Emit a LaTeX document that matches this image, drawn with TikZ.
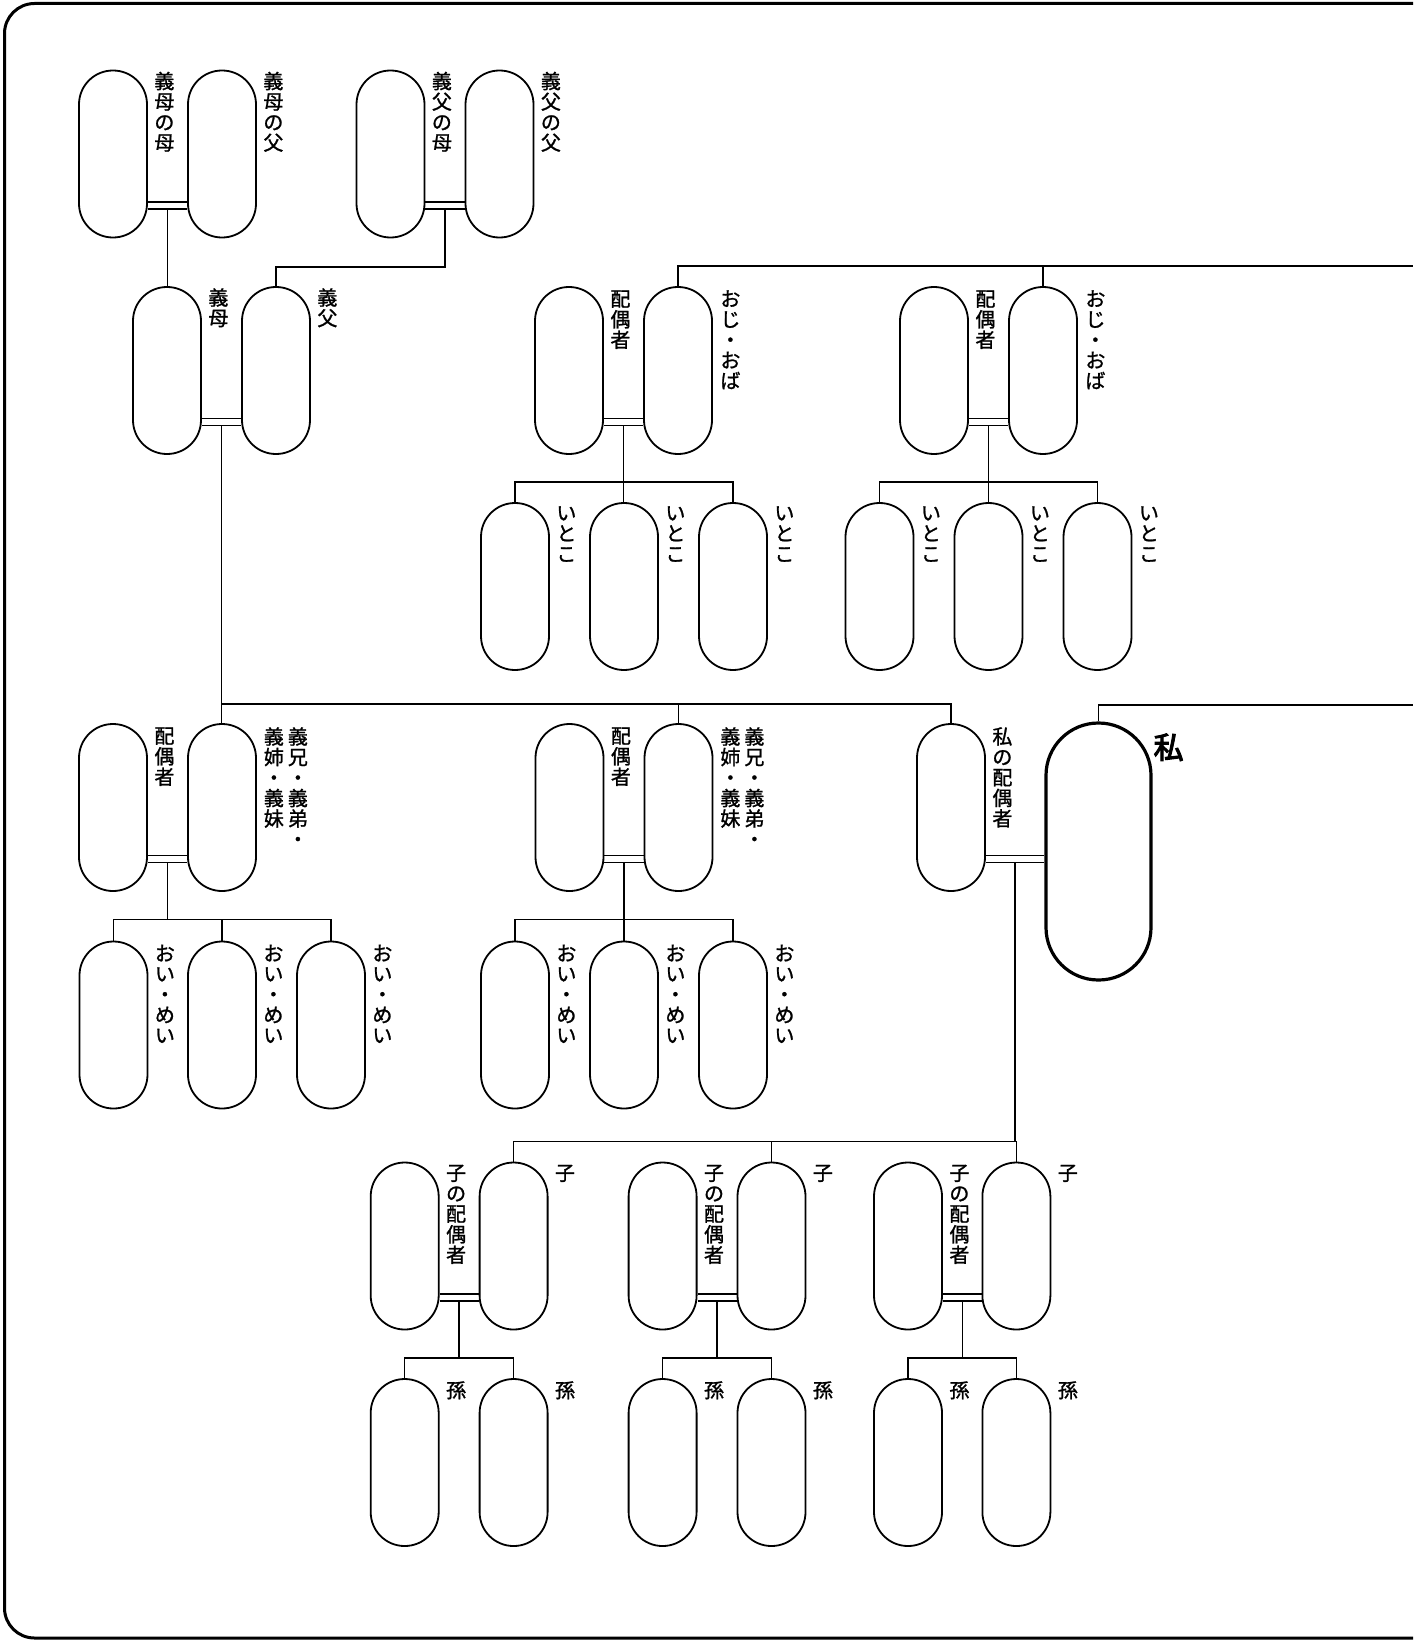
\documentclass[tikz,border=0pt]{standalone}
\usepackage{fontspec}
\newfontfamily\jp[FakeBold=1.2]{Noto Sans CJK JP}
\newfontfamily\jpb[FakeBold=3.5]{Noto Sans CJK JP}
\usetikzlibrary{calc}
\newcommand\couple[3]{%
  \draw[link] ($(#1.east)+(0,48)$) -- ($(#2.west)+(0,48)$);
  \draw[link] ($(#1.east)+(0,55)$) -- ($(#2.west)+(0,55)$);
  \coordinate (#3) at ($(#1.east)!.5!(#2.west)+(0,55)$);}
\begin{document}
\begin{tikzpicture}[x=1pt,y=-1pt,
  person/.style={draw, line width=1.8pt, rounded corners=33.9pt, minimum width=68pt, minimum height=167pt, inner sep=0pt},
  mebox/.style={draw, line width=3.2pt, rounded corners=52.4pt, minimum width=105pt, minimum height=257pt, inner sep=0pt},
  lbl/.style={anchor=north, inner sep=0pt, align=center, font=\jp\fontsize{20}{20.5}\selectfont},
  bigl/.style={anchor=north, inner sep=0pt, font=\jpb\fontsize{30}{30}\selectfont},
  link/.style={line width=1.4pt},
  frameline/.style={line width=3pt, rounded corners=30pt}]
\useasboundingbox (0,0) rectangle (1413,1640);
% frame
\draw[frameline] (1413,3.5) -- (4.5,3.5) -- (4.5,1638) -- (1413,1638);
% row 1
\node[person] (A1) at (113,154) {};
\node[person] (A2) at (222,154) {};
\node[person] (A3) at (390.5,154) {};
\node[person] (A4) at (499.5,154) {};
% row 2
\node[person] (B1) at (167,370.5) {};
\node[person] (B2) at (276,370.5) {};
\node[person] (B3) at (569,370.5) {};
\node[person] (B4) at (678,370.5) {};
\node[person] (B5) at (934,370.5) {};
\node[person] (B6) at (1043,370.5) {};
% cousins
\node[person] (C1) at (515,586.5) {};
\node[person] (C2) at (624,586.5) {};
\node[person] (C3) at (733,586.5) {};
\node[person] (C4) at (879.5,586.5) {};
\node[person] (C5) at (988.5,586.5) {};
\node[person] (C6) at (1097.5,586.5) {};
% row 3
\node[person] (D1) at (113,807.5) {};
\node[person] (D2) at (222,807.5) {};
\node[person] (D3) at (569.5,807.5) {};
\node[person] (D4) at (678.5,807.5) {};
\node[person] (D5) at (951,807.5) {};
\node[mebox] (ME) at (1098.5,851.5) {};
% nephews
\node[person] (E1) at (113.5,1025) {};
\node[person] (E2) at (222,1025) {};
\node[person] (E3) at (331,1025) {};
\node[person] (E4) at (515,1025) {};
\node[person] (E5) at (624,1025) {};
\node[person] (E6) at (733,1025) {};
% children
\node[person] (F1) at (404.7,1246) {};
\node[person] (F2) at (513.6,1246) {};
\node[person] (F3) at (662.6,1246) {};
\node[person] (F4) at (771.5,1246) {};
\node[person] (F5) at (908,1246) {};
\node[person] (F6) at (1016.4,1246) {};
% grandchildren
\node[person] (G1) at (404.7,1462.5) {};
\node[person] (G2) at (513.6,1462.5) {};
\node[person] (G3) at (662.6,1462.5) {};
\node[person] (G4) at (771.5,1462.5) {};
\node[person] (G5) at (908,1462.5) {};
\node[person] (G6) at (1016.4,1462.5) {};

% labels
\node[lbl] (tA1) at ($(A1.north east)+(16.5,2)$) {義\\母\\の\\母};
\node[lbl] (tA2) at ($(A2.north east)+(16.5,2)$) {義\\母\\の\\父};
\node[lbl] (tA3) at ($(A3.north east)+(16.5,2)$) {義\\父\\の\\母};
\node[lbl] (tA4) at ($(A4.north east)+(16.5,2)$) {義\\父\\の\\父};
\node[lbl] (tB1) at ($(B1.north east)+(16.5,2)$) {義\\母};
\node[lbl] (tB2) at ($(B2.north east)+(16.5,2)$) {義\\父};
\node[lbl] (tB3) at ($(B3.north east)+(16.5,4)$) {配\\偶\\者};
\node[lbl] (tB4) at ($(B4.north east)+(17.5,4)$) {お\\じ\\・\\お\\ば};
\node[lbl] (tB5) at ($(B5.north east)+(16.5,4)$) {配\\偶\\者};
\node[lbl] (tB6) at ($(B6.north east)+(17.5,4)$) {お\\じ\\・\\お\\ば};
\foreach \c in {C1,C2,C3,C4,C5,C6}{
  \node[lbl] (t\c) at ($(\c.north east)+(16.5,4)$) {い\\と\\こ};}
\node[lbl] (tD1) at ($(D1.north east)+(16.5,4)$) {配\\偶\\者};
\node[lbl] (tD2a) at ($(D2.north east)+(41,4)$) {義\\兄\\・\\義\\弟\\・};
\node[lbl] (tD2b) at ($(D2.north east)+(17,4)$) {義\\姉\\・\\義\\妹};
\node[lbl] (tD3) at ($(D3.north east)+(16.5,4)$) {配\\偶\\者};
\node[lbl] (tD4a) at ($(D4.north east)+(41,4)$) {義\\兄\\・\\義\\弟\\・};
\node[lbl] (tD4b) at ($(D4.north east)+(17,4)$) {義\\姉\\・\\義\\妹};
\node[lbl] (tD5) at ($(D5.north east)+(16.5,4)$) {私\\の\\配\\偶\\者};
\node[bigl] (tME) at ($(ME.north east)+(16,12)$) {私};
\foreach \c in {E1,E2,E3,E4,E5,E6}{
  \node[lbl] (t\c) at ($(\c.north east)+(16.5,4)$) {お\\い\\・\\め\\い};}
\foreach \c in {F1,F3,F5}{
  \node[lbl] (t\c) at ($(\c.north east)+(16.5,3)$) {子\\の\\配\\偶\\者};}
\foreach \c in {F2,F4,F6}{
  \node[lbl] (t\c) at ($(\c.north east)+(16.5,3)$) {子};}
\foreach \c in {G1,G2,G3,G4,G5,G6}{
  \node[lbl] (t\c) at ($(\c.north east)+(16.5,3)$) {孫};}

% couples
\couple{A1}{A2}{mA1}
\couple{A3}{A4}{mA3}
\couple{B1}{B2}{mB1}
\couple{B3}{B4}{mB3}
\couple{B5}{B6}{mB5}
\couple{D1}{D2}{mD1}
\couple{D3}{D4}{mD3}
\couple{F1}{F2}{mF1}
\couple{F3}{F4}{mF3}
\couple{F5}{F6}{mF5}
\coordinate (p1) at ($(D5.east)+(0,48)$);
\coordinate (p2) at ($(D5.east)+(0,55)$);
\draw[link] (p1) -- (p1 -| ME.west);
\draw[link] (p2) -- (p2 -| ME.west);
\coordinate (mMe) at ($(p2)!.5!(p2 -| ME.west)$);

% parents of in-laws
\draw[link] (mA1) -- (mA1 |- B1.north);
\draw[link] (mA3) |- ($(B2.north)+(0,-19)$) -- (B2.north);
% siblings bar
\coordinate (sib) at ($(D2.north)+(0,-19)$);
\draw[link] (mB1) -- (mB1 |- D2.north);
\draw[link] (sib) -| (D5.north);
\draw[link] (D4.north) -- (D4.north |- sib);
% me to parents (off page)
\coordinate (meR) at (1413,705);
\draw[link] (ME.north) |- (meR);
% uncles line
\coordinate (ojR) at (1413,266);
\draw[link] (B4.north) |- (ojR);
\draw[link] (B6.north) -- (B6.north |- ojR);
% cousins
\draw[link] (C1.north) -- ++(0,-20) coordinate (cb1) -| (C3.north);
\draw[link] (mB3) -- (mB3 |- C2.north);
\draw[link] (C4.north) -- ++(0,-20) coordinate (cb2) -| (C6.north);
\draw[link] (mB5) -- (mB5 |- C5.north);
% nephews
\draw[link] (E1.north) -- ++(0,-21) coordinate (nb1) -| (E3.north);
\draw[link] (mD1) -- (mD1 |- nb1);
\draw[link] (E2.north) -- (E2.north |- nb1);
\draw[link] (E4.north) -- ++(0,-21) coordinate (nb2) -| (E6.north);
\draw[link] (mD3) -- (mD3 |- E5.north);
% children
\draw[link] (F2.north) -- ++(0,-20) coordinate (kb) -| (F6.north);
\draw[link] (F4.north) -- (F4.north |- kb);
\draw[link] (mMe) -- (mMe |- kb);
% grandchildren
\draw[link] (G1.north) -- ++(0,-20) coordinate (gb1) -| (G2.north);
\draw[link] (mF1) -- (mF1 |- gb1);
\draw[link] (G3.north) -- ++(0,-20) coordinate (gb2) -| (G4.north);
\draw[link] (mF3) -- (mF3 |- gb2);
\draw[link] (G5.north) -- ++(0,-20) coordinate (gb3) -| (G6.north);
\draw[link] (mF5) -- (mF5 |- gb3);
\end{tikzpicture}
\end{document}
